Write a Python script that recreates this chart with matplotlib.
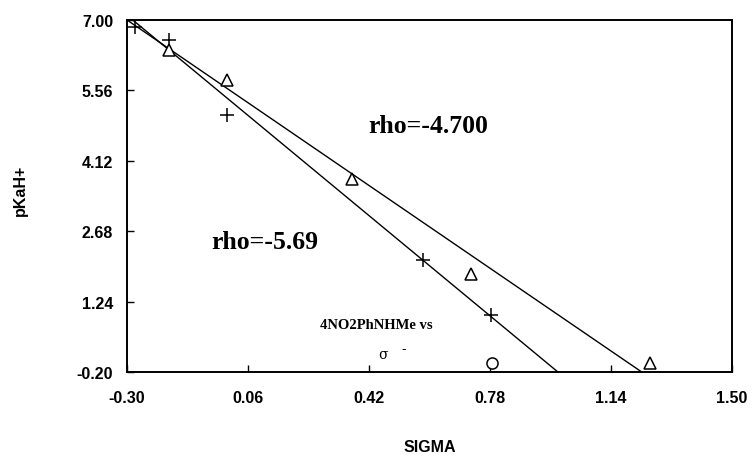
import matplotlib
matplotlib.use("Agg")
import matplotlib.pyplot as plt
import numpy as np

# Data
plus_x = [-0.275, -0.175, -0.002, 0.581, 0.783]
plus_y = [6.86, 6.60, 5.06, 2.09, 0.97]
tri_x = [-0.175, -0.002, 0.37, 0.724, 1.256]
tri_y = [6.38, 5.77, 3.74, 1.80, -0.01]
circ_x = [0.786]
circ_y = [-0.01]

# Regression lines: (intercept, rho)
line_upper = (5.59, -4.70)
line_lower = (5.39, -5.69)

xticks = [-0.30, 0.06, 0.42, 0.78, 1.14, 1.50]
yticks = [-0.20, 1.24, 2.68, 4.12, 5.56, 7.00]

fig = plt.figure(figsize=(7.56, 4.56), dpi=100)
ax = fig.add_axes([0.168, 0.182, 0.800, 0.772])

xs = np.array([-0.3, 1.5])
for a, b in (line_upper, line_lower):
    ax.plot(xs, a + b * xs, color="black", lw=1.0)

ax.plot(plus_x, plus_y, linestyle="none", marker="+", ms=10, mew=1.1, color="black")
ax.plot(tri_x, tri_y, linestyle="none", marker="^", ms=8, mew=1.1, mfc="white", mec="black")
ax.plot(circ_x, circ_y, linestyle="none", marker="o", ms=8, mew=1.1, mfc="white", mec="black")

ax.set_xlim(-0.30, 1.50)
ax.set_ylim(-0.20, 7.00)
ax.set_xticks(xticks)
ax.set_yticks(yticks)
tick_font = dict(fontfamily="Liberation Sans", fontsize=11.5, fontweight="bold")
ax.set_xticklabels([f"{v:.2f}" for v in xticks], **tick_font)
ax.set_yticklabels([f"{v:.2f}" for v in yticks], **tick_font)
ax.tick_params(axis="x", direction="in", length=5, width=1, pad=13, top=False)
ax.tick_params(axis="y", direction="in", length=5, width=1, pad=10, right=False)
for s in ax.spines.values():
    s.set_linewidth(1.4)

ax.set_xlabel("SIGMA", fontfamily="Liberation Sans", fontsize=11.5, fontweight="bold")
ax.set_ylabel("pKaH+", fontfamily="Liberation Sans", fontsize=11.5, fontweight="bold")
ax.xaxis.set_label_coords(0.5, -0.19)
ax.yaxis.set_label_coords(-0.164, 0.52)

ax.text(0.417, 4.85, "rho=-4.700", fontfamily="Liberation Serif", fontweight="bold",
        fontsize=18.5, va="center", ha="left")
ax.text(-0.05, 2.46, "rho=-5.69", fontfamily="Liberation Serif", fontweight="bold",
        fontsize=18.5, va="center", ha="left")
ax.text(0.274, 0.78, "4NO2PhNHMe vs", fontfamily="Liberation Serif", fontweight="bold",
        fontsize=10.5, va="center", ha="left")
ax.text(0.462, 0.17, "σ", fontfamily="DejaVu Serif", fontsize=10, va="center", ha="center")
ax.text(0.522, 0.27, "-", fontfamily="DejaVu Sans", fontsize=9, va="center", ha="center")

fig.savefig("out.png", dpi=100)
